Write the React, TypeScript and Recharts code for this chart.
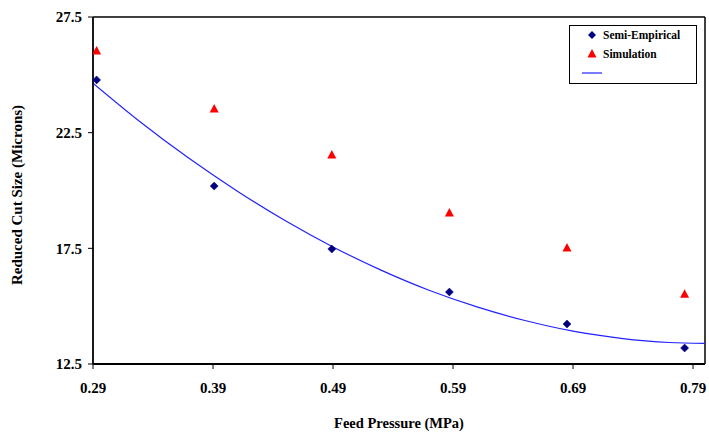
import React from 'react';
import {
  ComposedChart,
  Scatter,
  Line,
  XAxis,
  YAxis,
  ReferenceLine,
  Label,
} from 'recharts';

// Feed pressure (MPa) of the measured points
const pressures = [0.293, 0.391, 0.489, 0.587, 0.685, 0.783];
// Semi-empirical reduced cut size (microns)
const semiEmpirical = [24.78, 20.19, 17.47, 15.61, 14.23, 13.19];
// Simulation reduced cut size (microns)
const simulation = [26.03, 23.52, 21.53, 19.03, 17.51, 15.52];
// Trend curve
const trendX = [0.29, 0.33, 0.37, 0.41, 0.45, 0.49, 0.53, 0.57, 0.61, 0.65, 0.69, 0.73, 0.77, 0.8];
const trendY = [24.64, 22.94, 21.39, 19.98, 18.7, 17.56, 16.56, 15.69, 14.97, 14.38, 13.92, 13.61, 13.43, 13.39];

const xTicks = [0.29, 0.39, 0.49, 0.59, 0.69, 0.79];
const yTicks = [12.5, 17.5, 22.5, 27.5];
const legendNames = ['Semi-Empirical', 'Simulation'];

const semiData = pressures.map((x, i) => ({ x, y: semiEmpirical[i] }));
const simData = pressures.map((x, i) => ({ x, y: simulation[i] }));
const trendData = trendX.map((x, i) => ({ x, y: trendY[i] }));

const FONT = "'Liberation Serif', 'Times New Roman', Times, 'DejaVu Serif', serif";
const NAVY = '#000080';
const RED = '#FF0000';
const BLUE = '#2222FF';

const Diamond = (props: any) => {
  const { cx, cy } = props;
  if (cx == null || cy == null) return null;
  const r = 4;
  return (
    <path
      d={`M${cx},${cy - r} L${cx + r},${cy} L${cx},${cy + r} L${cx - r},${cy} Z`}
      fill={NAVY}
      stroke={NAVY}
      strokeWidth={0.5}
    />
  );
};

const Triangle = (props: any) => {
  const { cx, cy } = props;
  if (cx == null || cy == null) return null;
  return (
    <path
      d={`M${cx},${cy - 5} L${cx + 4.5},${cy + 3.5} L${cx - 4.5},${cy + 3.5} Z`}
      fill={RED}
    />
  );
};

const LegendBox = () => (
  <svg width={128} height={59} style={{ display: 'block' }}>
    <rect x={0.5} y={0.5} width={127} height={58} fill="#fff" stroke="#000" strokeWidth={1} />
    <path d="M23,6 L27,10 L23,14 L19,10 Z" fill={NAVY} />
    <text x={34} y={10} dominantBaseline="central" style={{ fontFamily: FONT }} fontWeight="bold" fontSize={11.5} fill="#000">
      {legendNames[0]}
    </text>
    <path d="M23,24 L27.5,32.5 L18.5,32.5 Z" fill={RED} />
    <text x={34} y={29} dominantBaseline="central" style={{ fontFamily: FONT }} fontWeight="bold" fontSize={11.5} fill="#000">
      {legendNames[1]}
    </text>
    <line x1={13} x2={33} y1={48} y2={48} stroke={BLUE} strokeWidth={1.2} />
  </svg>
);

const tickStyle = { fontFamily: FONT, fontSize: 15, fontWeight: 'bold', fill: '#000', style: { fontFamily: FONT } };

export default function App() {
  return (
    <div style={{ position: 'absolute', left: 0, top: 0, width: 709, height: 434, background: '#fff', fontFamily: FONT }}>
      <ComposedChart
        width={709}
        height={434}
        margin={{ top: 17, right: 4, bottom: 0, left: 0 }}
      >
        <XAxis
          type="number"
          dataKey="x"
          domain={[0.29, 0.8]}
          ticks={xTicks}
          allowDataOverflow
          height={70}
          tickSize={5}
          tickMargin={13}
          tickFormatter={(v: number) => v.toFixed(2)}
          axisLine={{ stroke: '#000', strokeWidth: 1.8 }}
          tickLine={{ stroke: '#000', strokeWidth: 1 }}
          tick={tickStyle}
        >
          <Label
            content={() => (
              <text x={399} y={423} textAnchor="middle" dominantBaseline="central" style={{ fontFamily: FONT }} fontWeight="bold" fontSize={14.5} fill="#000">
                Feed Pressure (MPa)
              </text>
            )}
          />
        </XAxis>
        <YAxis
          type="number"
          dataKey="y"
          domain={[12.5, 27.5]}
          ticks={yTicks}
          allowDataOverflow
          width={93}
          tickSize={5}
          tickMargin={6}
          tickFormatter={(v: number) => v.toFixed(1)}
          axisLine={{ stroke: '#000', strokeWidth: 1.8 }}
          tickLine={{ stroke: '#000', strokeWidth: 1 }}
          tick={tickStyle}
        >
          <Label
            content={() => (
              <text
                x={17}
                y={195}
                transform="rotate(-90, 17, 195)"
                textAnchor="middle"
                dominantBaseline="central"
                style={{ fontFamily: FONT }}
                fontWeight="bold"
                fontSize={15}
                fill="#000"
              >
                Reduced Cut Size (Microns)
              </text>
            )}
          />
        </YAxis>
        <ReferenceLine y={27.5} stroke="#000" strokeWidth={1.5} />
        <ReferenceLine x={0.8} stroke="#000" strokeWidth={1.5} />
        <Line
          data={trendData}
          dataKey="y"
          type="monotone"
          stroke={BLUE}
          strokeWidth={1.2}
          dot={false}
          activeDot={false}
          isAnimationActive={false}
          legendType="none"
        />
        <Scatter name={legendNames[0]} data={semiData} dataKey="y" shape={Diamond} isAnimationActive={false} />
        <Scatter name={legendNames[1]} data={simData} dataKey="y" shape={Triangle} isAnimationActive={false} />
      </ComposedChart>
      <div style={{ position: 'absolute', left: 569, top: 25 }}>
        <LegendBox />
      </div>
    </div>
  );
}
